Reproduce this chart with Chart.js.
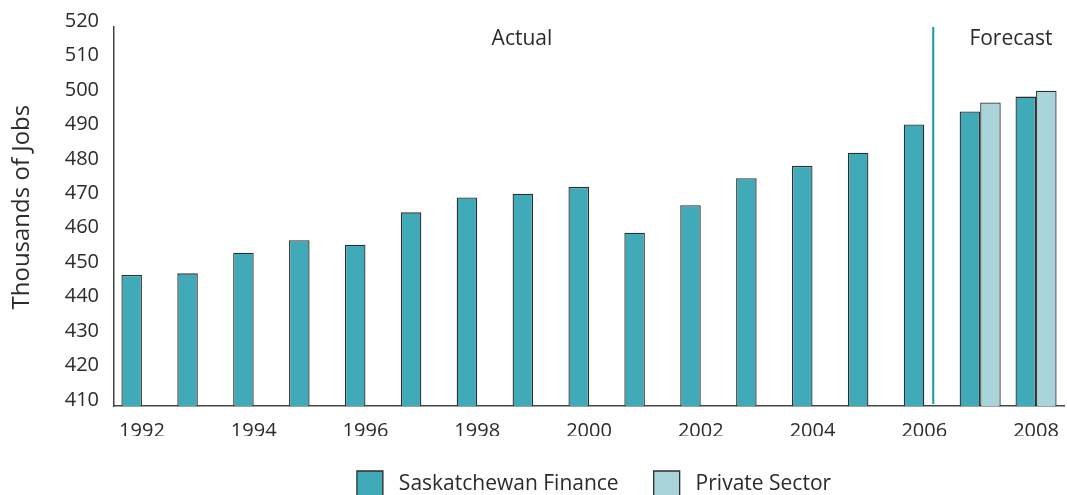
<!DOCTYPE html>
<html>
<head>
<meta charset="utf-8">
<script src="https://cdn.jsdelivr.net/npm/chart.js@4"></script>
<style>
	html, body { margin: 0; padding: 0; background: #fff; overflow: hidden; }
	#wrap { width: 1067px; height: 507px; }
</style>
</head>
<body>
<div id="wrap"><canvas id="jobsChart"></canvas></div>
<script>
const years = ["1992", "1993", "1994", "1995", "1996", "1997", "1998", "1999", "2000",
	"2001", "2002", "2003", "2004", "2005", "2006", "2007", "2008"];
const saskFinance = [448.0, 448.5, 454.5, 458.1, 456.8, 466.2, 470.5, 471.6, 473.6,
	460.3, 468.3, 476.1, 479.7, 483.5, 491.7, 495.5, 499.8];
const privateSector = [null, null, null, null, null, null, null, null, null,
	null, null, null, null, null, null, 498.1, 501.5];
const yTicks = [410, 420, 430, 440, 450, 460, 470, 480, 490, 500, 510, 520];

const FONT = "'Open Sans', sans-serif";
const TEXT = "#2b2b2b";

// divider between actual and forecast years, plus the two section labels
const sectionPlugin = {
	id: "sections",
	beforeDraw(chart) {
		// legend sits under the plot area, not the whole canvas
		if (chart.legend) {
			chart.legend.left = chart.chartArea.left + 10;
			chart.legend.right = chart.chartArea.right;
		}
	},
	afterDatasetsDraw(chart) {
		const { ctx, chartArea, scales } = chart;
		const x = scales.x, y = scales.y;
		const step = x.getPixelForValue(1) - x.getPixelForValue(0);
		const lineX = x.getPixelForValue(14) + step * 0.16;
		ctx.save();
		ctx.strokeStyle = "#1598a8";
		ctx.lineWidth = 2;
		ctx.beginPath();
		ctx.moveTo(lineX, chartArea.top);
		ctx.lineTo(lineX, chartArea.bottom - 2);
		ctx.stroke();

		ctx.fillStyle = TEXT;
		ctx.font = "21px " + FONT;
		ctx.textAlign = "center";
		ctx.textBaseline = "middle";
		const ty = y.getPixelForValue(516.5);
		ctx.fillText("Actual", x.getPixelForValue(6.8), ty);
		ctx.fillText("Forecast", x.getPixelForValue(15.55), ty);
		ctx.restore();
	}
};

new Chart(document.getElementById("jobsChart"), {
	type: "bar",
	data: {
		labels: years,
		datasets: [{
			label: "Saskatchewan Finance",
			data: saskFinance,
			backgroundColor: "#40aab8",
			borderColor: "#2e2e2e",
			borderWidth: 1.3,
			borderSkipped: false
		}, {
			label: "Private Sector",
			data: privateSector,
			backgroundColor: "#a9d4da",
			borderColor: "#2e2e2e",
			borderWidth: 1.3,
			borderSkipped: false
		}]
	},
	options: {
		responsive: true,
		maintainAspectRatio: false,
		animation: false,
		layout: { padding: { top: 26, right: 3, left: 8, bottom: 0 } },
		datasets: { bar: { barPercentage: 1, categoryPercentage: 0.735 } },
		plugins: {
			tooltip: { enabled: false },
			legend: {
				position: "bottom",
				labels: {
					boxWidth: 26,
					boxHeight: 26,
					padding: 35,
					color: TEXT,
					font: { family: FONT, size: 21 },
					generateLabels: chart =>
						Chart.defaults.plugins.legend.labels.generateLabels(chart)
							.map(item => ({ ...item, text: " " + item.text }))
				}
			}
		},
		scales: {
			x: {
				grid: { display: false, drawTicks: false },
				border: { display: true, color: "#444", width: 1.5 },
				ticks: {
					autoSkip: false,
					maxRotation: 0,
					padding: 13,
					color: TEXT,
					font: { family: FONT, size: 20 },
					callback: (v, i) => (i % 2 === 0 ? years[i] : "")
				},
				afterFit: s => {
					s.height = 30;
					s.paddingLeft = 0;
					s.paddingRight = 0;
				}
			},
			y: {
				min: yTicks[0],
				max: yTicks[yTicks.length - 1],
				grid: { display: false, drawTicks: false },
				border: { display: true, color: "#444", width: 1.5 },
				afterBuildTicks: s => { s.ticks = yTicks.map(v => ({ value: v })); },
				ticks: {
					padding: 15,
					labelOffset: -6,
					color: TEXT,
					font: { family: FONT, size: 20 }
				},
				title: {
					display: true,
					// leading spaces nudge the rotated title a little above centre
					text: "   Thousands of Jobs",
					color: TEXT,
					font: { family: FONT, size: 24 },
					padding: { top: 0, bottom: 8 }
				},
				afterFit: s => { s.width = 106; }
			}
		}
	},
	plugins: [sectionPlugin]
});
</script>
</body>
</html>
